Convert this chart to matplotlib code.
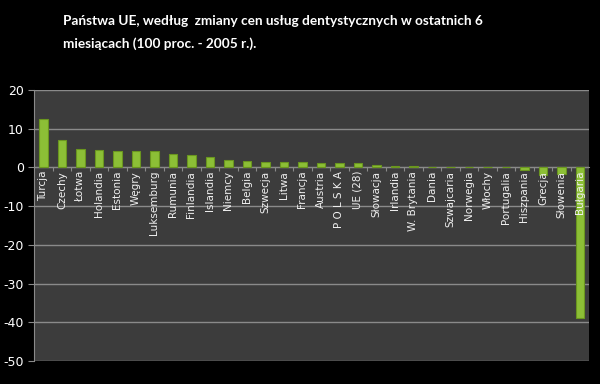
import matplotlib.pyplot as plt
import numpy as np

countries = ["Turcja", "Czechy", "Łotwa", "Holandia", "Estonia", "Węgry", "Luksemburg",
             "Rumunia", "Finlandia", "Islandia", "Niemcy", "Belgia", "Szwecja", "Litwa",
             "Francja", "Austria", "P O L S K A", "UE (28)", "Słowacja", "Irlandia",
             "W. Brytania", "Dania", "Szwajcaria", "Norwegia", "Włochy", "Portugalia",
             "Hiszpania", "Grecja", "Słowenia", "Bułgaria"]
changes = [12.4, 7.0, 4.8, 4.5, 4.1, 4.1, 4.1,
           3.4, 3.1, 2.6, 2.0, 1.7, 1.4, 1.4,
           1.4, 1.2, 1.2, 1.0, 0.5, 0.4,
           0.4, 0.0, 0.0, 0.0, 0.0, 0.0,
           -0.8, -2.0, -1.7, -38.8]
y_ticks = [-50, -40, -30, -20, -10, 0, 10, 20]

plt.rcParams["axes.unicode_minus"] = False

fig = plt.figure(figsize=(6, 3.84), dpi=100, facecolor="black")
ax = fig.add_axes([0.057, 0.06, 0.925, 0.706])
ax.set_facecolor("#3c3c3c")

x = np.arange(len(countries))
ax.bar(x, changes, width=0.48, color="#8cbf36", edgecolor="#6a961f", linewidth=0.8, zorder=3)

ax.set_xlim(-0.5, len(countries) - 0.5)
ax.set_ylim(-50, 20)
ax.set_yticks(y_ticks)
ax.grid(axis="y", color="#8a8a8a", linewidth=1.0, zorder=0)

# x axis sits on the zero line, category labels hang below it inside the plot
ax.spines["bottom"].set_position(("data", 0))
for side in ["top", "right"]:
    ax.spines[side].set_visible(False)
for side in ["bottom", "left"]:
    ax.spines[side].set_color("#8a8a8a")

ax.set_xticks(x[:-1] + 0.5)
ax.set_xticklabels([])
ax.tick_params(axis="x", length=3, color="#8a8a8a", direction="out")
for xi, name in zip(x, countries):
    ax.text(xi, -0.9, name, rotation=90, ha="center", va="top", fontsize=7.5,
            color="#f0f0f0", zorder=5)
ax.tick_params(axis="y", labelsize=9, labelcolor="white", color="#8a8a8a", length=4)

fig.text(0.105, 0.962, "Państwa UE, według  zmiany cen usług dentystycznych w ostatnich 6\n"
         "miesiącach (100 proc. - 2005 r.).",
         color="white", fontsize=9.8, fontweight="bold", family="Lato",
         va="top", ha="left", linespacing=2.0)

plt.savefig("out.png", dpi=100, facecolor="black")
